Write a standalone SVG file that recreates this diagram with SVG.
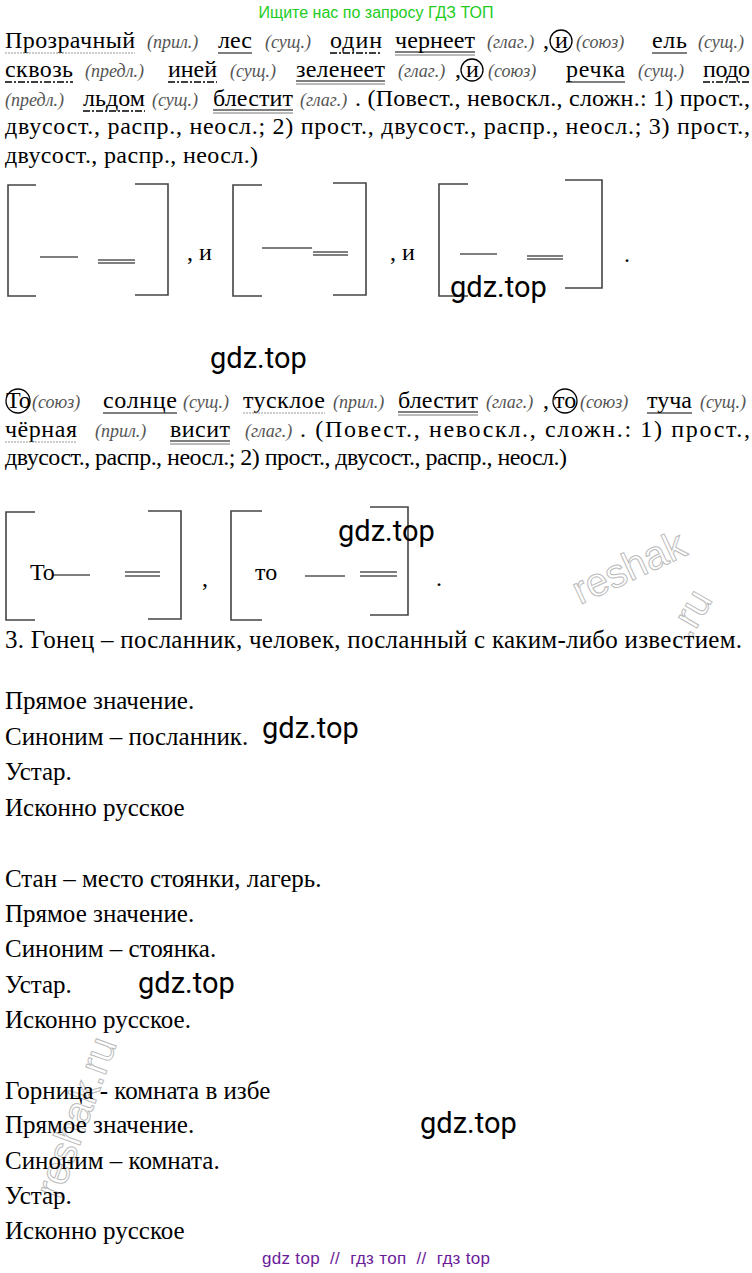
<svg xmlns="http://www.w3.org/2000/svg" width="752" height="1273" viewBox="0 0 752 1273">
<style>
.t{font-family:"Liberation Serif",serif;font-size:24px;fill:#000}
.p{font-family:"Liberation Serif",serif;font-size:25px;fill:#000}
.i{font-family:"Liberation Serif",serif;font-size:18px;font-style:italic;fill:#555}
.w{font-family:Roboto,"Liberation Sans",sans-serif;font-size:29px;fill:#000}
.br{fill:none;stroke:#444;stroke-width:1.6}
.u{stroke:#000;stroke-width:1.2}
.u2{stroke:#777;stroke-width:1}
.wv{fill:none;stroke:#999;stroke-width:1;stroke-dasharray:2 1}
.dd{stroke:#000;stroke-width:1.3;stroke-dasharray:7 2 2 2}
.c{fill:none;stroke:#000;stroke-width:1.3}
.rs{font-family:"Liberation Sans",sans-serif;font-size:40px;fill:none;stroke:#bbb;stroke-width:1}
</style>
<rect width="752" height="1273" fill="#fff"/>
<text x="376" y="18" text-anchor="middle" style="font-family:'Liberation Sans',sans-serif;font-size:16px;fill:#22cc22">Ищите нас по запросу ГДЗ ТОП</text>
<g id="watermarks">
<text class="rs" x="580" y="605" transform="rotate(-25 580 605)">reshak</text>
<text class="rs" x="690" y="640" transform="rotate(-60 690 640)">.ru</text>
<text class="rs" x="60" y="1200" transform="rotate(-70 60 1200)">reshak.ru</text>
</g>
<g id="sentence1">
<text class="t" x="5" y="48" textLength="130">Прозрачный</text><text class="i" x="147" y="48">(прил.)</text>
<text class="t" x="218" y="48" textLength="34">лес</text><text class="i" x="265" y="48">(сущ.)</text>
<text class="t" x="330" y="48" textLength="52">один</text><text class="t" x="395" y="48" textLength="80">чернеет</text>
<text class="i" x="487" y="48">(глаг.)</text><text class="t" x="543" y="48">,</text>
<text class="t" x="555" y="48">и</text><circle class="c" cx="561" cy="41" r="11"/>
<text class="i" x="576" y="48">(союз)</text><text class="t" x="652" y="48" textLength="35">ель</text><text class="i" x="698" y="48">(сущ.)</text>
<path class="wv" d="M5 53H135"/><line class="u" x1="218" y1="53" x2="252" y2="53"/>
<line class="dd" x1="330" y1="53" x2="382" y2="53"/>
<line class="u" x1="395" y1="52" x2="475" y2="52"/><line class="u2" x1="395" y1="55" x2="475" y2="55"/>
<line class="u" x1="652" y1="53" x2="687" y2="53"/>
<text class="t" x="5" y="77" textLength="68">сквозь</text><text class="i" x="85" y="77">(предл.)</text>
<text class="t" x="168" y="77" textLength="49">иней</text><text class="i" x="230" y="77">(сущ.)</text>
<text class="t" x="296" y="77" textLength="89">зеленеет</text><text class="i" x="398" y="77">(глаг.)</text>
<text class="t" x="455" y="77">,</text><text class="t" x="466" y="77">и</text><circle class="c" cx="472" cy="70" r="11"/>
<text class="i" x="488" y="77">(союз)</text><text class="t" x="566" y="77" textLength="59">речка</text>
<text class="i" x="638" y="77">(сущ.)</text><text class="t" x="703" y="77" textLength="47">подо</text>
<line class="dd" x1="5" y1="82" x2="73" y2="82"/><line class="dd" x1="168" y1="82" x2="217" y2="82"/>
<line class="u" x1="296" y1="81" x2="385" y2="81"/><line class="u2" x1="296" y1="84" x2="385" y2="84"/>
<line class="u" x1="566" y1="82" x2="625" y2="82"/><line class="dd" x1="703" y1="82" x2="750" y2="82"/>
<text class="i" x="5" y="106">(предл.)</text><text class="t" x="83" y="106" textLength="62">льдом</text>
<text class="i" x="152" y="106">(сущ.)</text><text class="t" x="213" y="106" textLength="80">блестит</text>
<text class="i" x="300" y="106">(глаг.)</text>
<text class="t" x="355" y="106" textLength="395">. (Повест., невоскл., сложн.: 1) прост.,</text>
<line class="dd" x1="83" y1="111" x2="145" y2="111"/>
<line class="u" x1="213" y1="110" x2="293" y2="110"/><line class="u2" x1="213" y1="113" x2="293" y2="113"/>
<text class="t" x="5" y="134" textLength="745">двусост., распр., неосл.; 2) прост., двусост., распр., неосл.; 3) прост.,</text>
<text class="t" x="5" y="163" textLength="253">двусост., распр., неосл.)</text>
</g>
<g id="scheme1">
<path class="br" d="M36 185H8V296H36"/><path class="br" d="M135 184H168V295H135"/>
<line class="u" x1="40" y1="257" x2="78" y2="257"/><line class="u" x1="98" y1="260" x2="135" y2="260"/><line class="u" x1="98" y1="263" x2="135" y2="263"/>
<text class="t" x="187" y="260">, и</text>
<path class="br" d="M262 185H233V296H262"/><path class="br" d="M333 183H366V295H333"/>
<line class="u" x1="262" y1="248" x2="312" y2="248"/><line class="u" x1="313" y1="252" x2="348" y2="252"/><line class="u" x1="313" y1="255" x2="348" y2="255"/>
<text class="t" x="390" y="260">, и</text>
<path class="br" d="M468 184H439V296H468"/><path class="br" d="M565 180H602V288H565"/>
<line class="u" x1="460" y1="254" x2="497" y2="254"/><line class="u" x1="527" y1="256" x2="563" y2="256"/><line class="u" x1="527" y1="259" x2="563" y2="259"/>
<text class="t" x="624" y="262">.</text>
</g>
<g id="sentence2">
<text class="t" x="6" y="408">То</text><circle class="c" cx="18" cy="401" r="12"/>
<text class="i" x="32" y="408">(союз)</text><text class="t" x="103" y="408" textLength="74">солнце</text>
<text class="i" x="183" y="408">(сущ.)</text><text class="t" x="243" y="408" textLength="82">тусклое</text>
<text class="i" x="333" y="408">(прил.)</text><text class="t" x="398" y="408" textLength="80">блестит</text>
<text class="i" x="486" y="408">(глаг.)</text><text class="t" x="543" y="408">,</text>
<text class="t" x="554" y="408">то</text><circle class="c" cx="565" cy="401" r="12"/>
<text class="i" x="580" y="408">(союз)</text><text class="t" x="647" y="408" textLength="45">туча</text><text class="i" x="700" y="408">(сущ.)</text>
<line class="u" x1="103" y1="413" x2="177" y2="413"/><path class="wv" d="M243 413H325"/>
<line class="u" x1="398" y1="412" x2="478" y2="412"/><line class="u2" x1="398" y1="415" x2="478" y2="415"/>
<line class="u" x1="647" y1="413" x2="692" y2="413"/>
<text class="t" x="5" y="437" textLength="72">чёрная</text><text class="i" x="95" y="437">(прил.)</text>
<text class="t" x="170" y="437" textLength="60">висит</text><text class="i" x="245" y="437">(глаг.)</text>
<text class="t" x="300" y="437" textLength="450">. (Повест., невоскл., сложн.: 1) прост.,</text>
<path class="wv" d="M5 442H77"/>
<line class="u" x1="170" y1="441" x2="230" y2="441"/><line class="u2" x1="170" y1="444" x2="230" y2="444"/>
<text class="t" x="5" y="465" textLength="562">двусост., распр., неосл.; 2) прост., двусост., распр., неосл.)</text>
</g>
<g id="scheme2">
<path class="br" d="M35 512H6V620H35"/><path class="br" d="M148 511H181V619H148"/>
<text class="t" x="30" y="580">То</text>
<line class="u" x1="53" y1="575" x2="90" y2="575"/><line class="u" x1="125" y1="572" x2="160" y2="572"/><line class="u" x1="125" y1="576" x2="160" y2="576"/>
<text class="t" x="202" y="586">,</text>
<path class="br" d="M262 511H231V620H262"/><path class="br" d="M370 507H408V615H370"/>
<text class="t" x="255" y="580">то</text>
<line class="u" x1="305" y1="576" x2="345" y2="576"/><line class="u" x1="360" y1="572" x2="397" y2="572"/><line class="u" x1="360" y1="576" x2="397" y2="576"/>
<text class="t" x="436" y="586">.</text>
</g>
<g id="part3">
<text class="p" x="5" y="648" textLength="737">3. Гонец – посланник, человек, посланный с каким-либо известием.</text>
<text class="p" x="5" y="709">Прямое значение.</text>
<text class="p" x="5" y="745">Синоним – посланник.</text>
<text class="p" x="5" y="780">Устар.</text>
<text class="p" x="5" y="816">Исконно русское</text>
<text class="p" x="5" y="887">Стан – место стоянки, лагерь.</text>
<text class="p" x="5" y="922">Прямое значение.</text>
<text class="p" x="5" y="957">Синоним – стоянка.</text>
<text class="p" x="5" y="993">Устар.</text>
<text class="p" x="5" y="1028">Исконно русское.</text>
<text class="p" x="5" y="1099">Горница - комната в избе</text>
<text class="p" x="5" y="1133">Прямое значение.</text>
<text class="p" x="5" y="1169">Синоним – комната.</text>
<text class="p" x="5" y="1204">Устар.</text>
<text class="p" x="5" y="1239">Исконно русское</text>
</g>
<g id="gdz">
<text class="w" x="450" y="297">gdz.top</text>
<text class="w" x="210" y="368">gdz.top</text>
<text class="w" x="338" y="541">gdz.top</text>
<text class="w" x="262" y="738">gdz.top</text>
<text class="w" x="138" y="993">gdz.top</text>
<text class="w" x="420" y="1133">gdz.top</text>
</g>
<text x="262" y="1264" textLength="228" style="font-family:'Liberation Sans',sans-serif;font-size:17px;fill:#6a1b9a;white-space:pre">gdz top  //  гдз топ  //  гдз top</text>
</svg>
